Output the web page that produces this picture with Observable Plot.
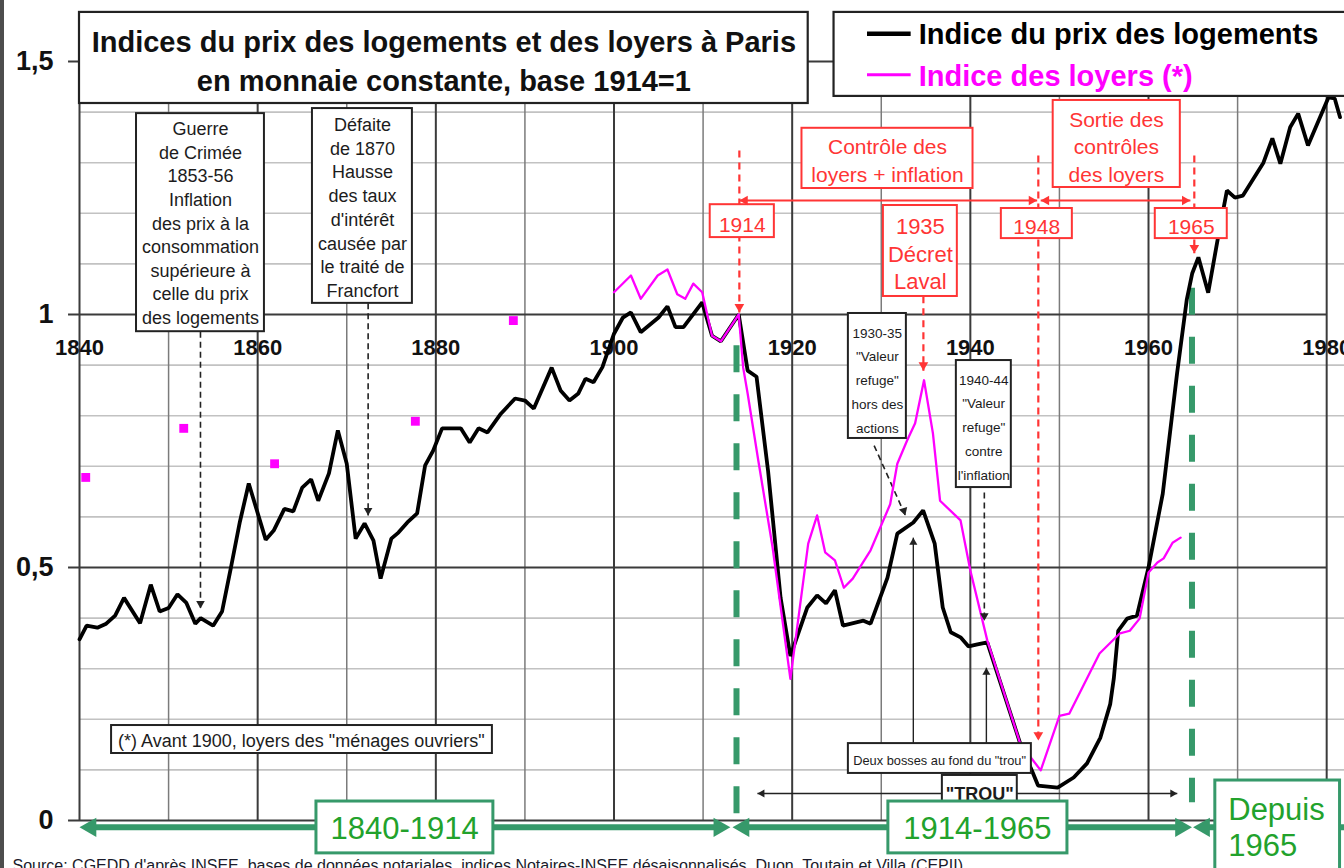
<!DOCTYPE html>
<html><head><meta charset="utf-8">
<script src="https://cdn.jsdelivr.net/npm/d3@7"></script>
<script src="https://cdn.jsdelivr.net/npm/@observablehq/plot@0.6"></script>
<style>
html,body{margin:0;padding:0;background:#fff;overflow:hidden;}
#wrap{position:relative;width:1344px;height:868px;overflow:hidden;}
#edge{position:absolute;left:0;top:0;width:4px;height:868px;background:#4d4d4d;}
</style></head>
<body><div id="wrap"><div id="chart"></div><div id="edge"></div></div>
<script>
// ---------------- DATA ----------------
const housingYears = [1840,1840.8,1842,1843,1844,1845,1846.8,1848,1849,1850,
1851,1852,1853,1853.6,1855,1856,1857,1858,1859,1860.9,
1861.8,1863,1864,1865,1866,1866.8,1868,1869,1870,1871,
1872,1873,1873.8,1875,1875.8,1876.8,1877.9,1878.8,1879.7,1880.7,
1881.8,1882.8,1883.8,1884.8,1885.8,1887.3,1888.9,1890,1891,1893,
1894,1895,1896,1896.8,1897.7,1898.7,1900,1901,1901.9,1903,
1905,1906,1906.9,1907.8,1909.9,1911,1912,1914,1915,1916,
1917.3,1918.7,1919.8,1921.7,1922.8,1923.8,1924.8,1925.7,1928,1928.8,
1930.7,1931.8,1933.6,1934.7,1936,1936.9,1937.8,1938.9,1939.8,1940.8,
1941.9,1945.6,1947,1947.6,1949.8,1951.6,1953.1,1954.6,1955.7,1956.1,
1956.6,1957.6,1958.7,1960,1961.6,1963.2,1964.3,1964.9,1965.6,1966.7,
1967.8,1968.8,1969.7,1970.6,1972.9,1973.9,1974.8,1975.9,1976.8,1977.9,
1980.2,1980.9,1981.5];
const housingIndex = [0.358,0.385,0.381,0.389,0.405,0.44,0.39,0.466,0.413,0.42,
0.447,0.43,0.389,0.40,0.385,0.413,0.50,0.59,0.666,0.555,
0.573,0.616,0.611,0.658,0.674,0.632,0.686,0.771,0.705,0.557,
0.587,0.553,0.478,0.557,0.569,0.589,0.607,0.702,0.731,0.775,
0.775,0.775,0.747,0.775,0.767,0.804,0.834,0.83,0.814,0.895,
0.85,0.83,0.844,0.873,0.866,0.896,0.962,0.994,1.004,0.965,
0.994,1.016,0.975,0.975,1.024,0.958,0.947,1.0,0.889,0.877,
0.69,0.44,0.325,0.421,0.445,0.429,0.455,0.385,0.395,0.389,
0.48,0.567,0.589,0.613,0.547,0.421,0.372,0.362,0.344,0.348,
0.352,0.152,0.095,0.069,0.065,0.085,0.113,0.164,0.23,0.28,
0.375,0.399,0.405,0.5,0.646,0.883,1.03,1.081,1.113,1.043,
1.152,1.245,1.231,1.235,1.30,1.348,1.298,1.37,1.397,1.334,
1.429,1.427,1.39];

const rentYears = [1900,1901.9,1903,1904.9,1906,1907.1,1908,1908.9,1909.9,1911,1912,
1914,1914.5,1915,1916.2,1917.8,1919.8,
1921.8,1922.8,1923.7,1924.8,1925.8,1926.8,1928.8,
1931,1931.8,1932.9,1933.8,1934.8,1935.8,1936.6,1938.9,1940,1941.9,
1945.6,1947.9,1950,1951.1,1954.5,1956.8,1957.9,1959,1960,1961,1961.7,1962.7,1963.6];
const rentIndex = [1.044,1.077,1.031,1.077,1.089,1.04,1.031,1.061,1.044,0.958,0.947,
1.0,0.895,0.844,0.711,0.54,0.28,
0.547,0.603,0.53,0.514,0.46,0.478,0.534,
0.625,0.705,0.751,0.785,0.87,0.765,0.632,0.593,0.494,0.356,
0.152,0.099,0.207,0.211,0.33,0.37,0.375,0.399,0.49,0.51,0.518,0.549,0.559];

// rents of "ménages ouvriers" before 1900 (isolated points)
const workerRentYears = [1840.7,1851.7,1861.9,1877.7,1888.7];
const workerRentIndex = [0.678,0.775,0.705,0.789,0.988];

const yTicks = [0, 0.5, 1, 1.5];
const yTickLabels = ["0", "0,5", "1", "1,5"];
const xTicks = [1840, 1860, 1880, 1900, 1920, 1940, 1960, 1980];
const xTickLabels = ["1840", "1860", "1880", "1900", "1920", "1940", "1960", "1980"];
const minorYGrid = [0.1,0.2,0.3,0.4,0.6,0.7,0.8,0.9,1.1,1.2,1.3,1.4];
const decadeGrid = [1850,1870,1890,1910,1930,1950,1970];

const titleText = "Indices du prix des logements et des loyers à Paris\nen monnaie constante, base 1914=1";
const legendLabels = ["Indice du prix des logements", "Indice des loyers (*)"];
const sourceText = "Source: CGEDD d'après INSEE, bases de données notariales, indices Notaires-INSEE désaisonnalisés, Duon, Toutain et Villa (CEPII)";

// ---------------- BUILD ----------------
const housing = housingYears.map((y, i) => ({year: y, value: housingIndex[i]}));
const rents = rentYears.map((y, i) => ({year: y, value: rentIndex[i]}));
const workerRents = workerRentYears.map((y, i) => ({year: y, value: workerRentIndex[i]}));

const SANS = "'Liberation Sans', Arial, Helvetica, sans-serif";
const RED = "#ff3535", GREEN = "#36996a", GREEN_TXT = "#22a22c", INK = "#1c1c1c";

// triangle arrowhead whose tip sits on (x, y); angle clockwise from "up"
function head(points, angle, r, fill) {
  const a = angle * Math.PI / 180, off = 1.555 * r;
  return Plot.dot(points, {x: "x", y: "y", symbol: "triangle", r, rotate: angle, fill, stroke: "none",
    dx: -off * Math.sin(a), dy: off * Math.cos(a)});
}

// annotation boxes (positions in data units: years / index)
const blackBoxes = [
  {x1: 1846.4, x2: 1860.76, y1: 0.966, y2: 1.397, cx: 1853.58, cy: 1.1826, size: 18, lh: 1.31,
   text: "Guerre\nde Crimée\n1853-56\nInflation\ndes prix à la\nconsommation\nsupérieure à\ncelle du prix\ndes logements"},
  {x1: 1866.15, x2: 1877.37, y1: 1.022, y2: 1.407, cx: 1871.76, cy: 1.2135, size: 18, lh: 1.32,
   text: "Défaite\nde 1870\nHausse\ndes taux\nd'intérêt\ncausée par\nle traité de\nFrancfort"},
  {x1: 1843.6, x2: 1886.35, y1: 0.1324, y2: 0.1877, cx: 1864.9, cy: 0.1583, size: 18, lh: 1.2,
   text: "(*) Avant 1900, loyers des \"ménages ouvriers\""},
  {x1: 1926.31, x2: 1932.82, y1: 0.755, y2: 1.002, cx: 1929.56, cy: 0.8755, size: 13.5, lh: 1.76,
   text: "1930-35\n\"Valeur\nrefuge\"\nhors des\nactions"},
  {x1: 1938.43, x2: 1944.6, y1: 0.658, y2: 0.909, cx: 1941.5, cy: 0.7825, size: 13.5, lh: 1.76,
   text: "1940-44\n\"Valeur\nrefuge\"\ncontre\nl'inflation"},
  {x1: 1926.31, x2: 1946.85, y1: 0.093, y2: 0.152, cx: 1936.55, cy: 0.1195, size: 12.8, lh: 1.2,
   text: "Deux bosses au fond du \"trou\""}
];
const redBoxes = [
  {x1: 1910.8, x2: 1918.0, y1: 1.152, y2: 1.217, cx: 1914.4, cy: 1.180, size: 21, lh: 1.3, text: "1914"},
  {x1: 1921.1, x2: 1940.3, y1: 1.249, y2: 1.368, cx: 1930.7, cy: 1.307, size: 21, lh: 1.3, text: "Contrôle des\nloyers + inflation"},
  {x1: 1930.24, x2: 1938.54, y1: 1.0356, y2: 1.2154, cx: 1934.39, cy: 1.122, size: 22, lh: 1.25, text: "1935\nDécret\nLaval"},
  {x1: 1943.48, x2: 1951.45, y1: 1.150, y2: 1.2095, cx: 1947.45, cy: 1.176, size: 21, lh: 1.3, text: "1948"},
  {x1: 1949.3, x2: 1963.57, y1: 1.251, y2: 1.423, cx: 1956.4, cy: 1.334, size: 21, lh: 1.3, text: "Sortie des\ncontrôles\ndes loyers"},
  {x1: 1960.76, x2: 1968.84, y1: 1.150, y2: 1.2095, cx: 1964.8, cy: 1.176, size: 21, lh: 1.3, text: "1965"}
];
const greenBoxes = [
  {x1: 1866.6, x2: 1886.46, y1: -0.065, y2: 0.0375, cx: 1876.5, cy: -0.0166, anchor: "middle", text: "1840-1914"},
  {x1: 1930.8, x2: 1950.9, y1: -0.065, y2: 0.0375, cx: 1940.8, cy: -0.0166, anchor: "middle", text: "1914-1965"},
  {x1: 1967.5, x2: 1981.5, y1: -0.12, y2: 0.079, cx: 1968.95, cy: -0.0125, anchor: "start", text: "Depuis\n1965"}
];

const redDashed = [
  {x1: 1914.07, y1: 1.324, x2: 1914.07, y2: 1.004},
  {x1: 1934.73, y1: 1.036, x2: 1934.73, y2: 0.889},
  {x1: 1947.63, y1: 1.314, x2: 1947.63, y2: 0.158},
  {x1: 1965.14, y1: 1.314, x2: 1965.14, y2: 1.121}
];
const redPeriods = [
  {x1: 1914.07, y1: 1.2253, x2: 1947.5, y2: 1.2253},
  {x1: 1947.9, y1: 1.2253, x2: 1964.7, y2: 1.2253}
];
const blackDashed = [
  {x1: 1853.58, y1: 0.966, x2: 1853.58, y2: 0.419},
  {x1: 1872.4, y1: 1.022, x2: 1872.4, y2: 0.603},
  {x1: 1929.2, y1: 0.741, x2: 1932.7, y2: 0.603},
  {x1: 1941.57, y1: 0.648, x2: 1941.57, y2: 0.395}
];
const blackSolid = [
  {x1: 1933.6, y1: 0.152, x2: 1933.6, y2: 0.559},
  {x1: 1941.8, y1: 0.152, x2: 1941.8, y2: 0.302},
  {x1: 1916.1, y1: 0.0534, x2: 1963.23, y2: 0.0534}
];
const greenDashed = [
  {x1: 1913.75, y1: 0.939, x2: 1913.75, y2: 0.01},
  {x1: 1964.88, y1: 1.053, x2: 1964.88, y2: 0.036}
];
const greenPeriods = [
  {x1: 1841.5, y1: -0.0135, x2: 1911.5, y2: -0.0135},
  {x1: 1915, y1: -0.0135, x2: 1963.3, y2: -0.0135},
  {x1: 1966.5, y1: -0.0135, x2: 1984, y2: -0.0135}
];

const txt = (data, opts) => Plot.text(data, {x: "cx", y: "cy", text: "text", ...opts});

const chart = Plot.plot({
  width: 1344, height: 868,
  marginLeft: 79, marginRight: 0, marginTop: 61, marginBottom: 48,
  x: {domain: [1840, 1982], axis: null},
  y: {domain: [0, 1.5], axis: null},
  style: {fontFamily: SANS, background: "white", overflow: "hidden"},
  marks: [
    // grid
    Plot.ruleY(minorYGrid, {y: d => d, x1: 1840, x2: 1982, stroke: "#c2c2c2", strokeWidth: 1.6}),
    Plot.ruleX(decadeGrid, {x: d => d, y1: 0, y2: 1.5, stroke: "#7b7b7b", strokeWidth: 1.5}),
    Plot.ruleX(xTicks, {x: d => d, y1: 0, y2: 1.5, stroke: "#3b3b3b", strokeWidth: 2}),
    Plot.ruleY(yTicks, {y: d => d, x1: 1838.77, x2: 1980, stroke: "#3b3b3b", strokeWidth: 2}),
    // axis labels
    Plot.text(yTicks, {x: 1840, y: d => d, text: (d, i) => yTickLabels[i], textAnchor: "end", dx: -26,
      fontSize: 27, fontWeight: "bold", fill: "#111"}),
    Plot.text(xTicks, {x: d => d, y: 0.933, text: (d, i) => xTickLabels[i], fontSize: 22, fontWeight: "bold", fill: "#111"}),
    // period separators
    Plot.link(greenDashed, {x1: "x1", y1: "y1", x2: "x2", y2: "y2", stroke: GREEN, strokeWidth: 6, strokeDasharray: "27,22"}),
    Plot.link(redDashed, {x1: "x1", y1: "y1", x2: "x2", y2: "y2", stroke: RED, strokeWidth: 2.2, strokeDasharray: "7,5"}),
    Plot.link(blackDashed, {x1: "x1", y1: "y1", x2: "x2", y2: "y2", stroke: "#222", strokeWidth: 1.6, strokeDasharray: "6,4"}),
    Plot.link(blackSolid, {x1: "x1", y1: "y1", x2: "x2", y2: "y2", stroke: "#222", strokeWidth: 1.4}),
    // data
    Plot.line(housing, {x: "year", y: "value", stroke: "#000", strokeWidth: 3.8, strokeLinejoin: "miter"}),
    Plot.line(rents, {x: "year", y: "value", stroke: "#ff00ff", strokeWidth: 2.3}),
    Plot.dot(workerRents, {x: "year", y: "value", symbol: "square", r: 5, fill: "#ff00ff", stroke: "none"}),
    // red period arrows
    Plot.link(redPeriods, {x1: "x1", y1: "y1", x2: "x2", y2: "y2", stroke: RED, strokeWidth: 2}),
    // boxes
    Plot.rect([{x1: 1840, x2: 1921.8, y1: 1.417, y2: 1.597}], {x1: "x1", x2: "x2", y1: "y1", y2: "y2", fill: "white", stroke: "#222", strokeWidth: 2.2}),
    Plot.text([titleText], {x: 1880.9, y: 1.5055, text: d => d, fontSize: 29, fontWeight: "bold", lineHeight: 1.345, fill: "#111"}),
    Plot.rect([{x1: 1924.7, x2: 1984, y1: 1.431, y2: 1.597}], {x1: "x1", x2: "x2", y1: "y1", y2: "y2", fill: "white", stroke: "#222", strokeWidth: 2.2}),
    Plot.link([{x1: 1928.4, x2: 1933.3, y: 1.555}], {x1: "x1", x2: "x2", y1: "y", y2: "y", stroke: "#000", strokeWidth: 4.5}),
    Plot.link([{x1: 1928.4, x2: 1933.3, y: 1.474}], {x1: "x1", x2: "x2", y1: "y", y2: "y", stroke: "#ff00ff", strokeWidth: 3}),
    Plot.text([legendLabels[0]], {x: 1934.2, y: 1.5534, text: d => d, textAnchor: "start", fontSize: 29, fontWeight: "bold", fill: "#000"}),
    Plot.text([legendLabels[1]], {x: 1934.2, y: 1.4709, text: d => d, textAnchor: "start", fontSize: 29, fontWeight: "bold", fill: "#ff00ff"}),

    Plot.rect(blackBoxes, {x1: "x1", x2: "x2", y1: "y1", y2: "y2", fill: "white", stroke: "#222", strokeWidth: 2}),
    ...blackBoxes.map(b => Plot.text([b], {x: "cx", y: "cy", text: "text", fontSize: b.size, lineHeight: b.lh, fill: INK})),
    Plot.rect(redBoxes, {x1: "x1", x2: "x2", y1: "y1", y2: "y2", fill: "white", stroke: RED, strokeWidth: 2}),
    ...redBoxes.map(b => Plot.text([b], {x: "cx", y: "cy", text: "text", fontSize: b.size, lineHeight: b.lh, fill: RED})),

    // "TROU" box (partly hidden by the period box)
    Plot.rect([{x1: 1936.86, x2: 1945.27, y1: 0.0, y2: 0.089}], {x1: "x1", x2: "x2", y1: "y1", y2: "y2", fill: "white", stroke: "#222", strokeWidth: 2}),
    Plot.text(["\"TROU\""], {x: 1941.05, y: 0.051, text: d => d, fontSize: 18, fontWeight: "bold", fill: INK}),

    // arrowheads
    head([{x: 1914.07, y: 1.004}, {x: 1934.73, y: 0.889}, {x: 1947.63, y: 0.158}, {x: 1965.14, y: 1.121}], 180, 3.6, RED),
    head([{x: 1914.07, y: 1.2253}, {x: 1947.9, y: 1.2253}], 270, 3.6, RED),
    head([{x: 1947.5, y: 1.2253}, {x: 1964.7, y: 1.2253}], 90, 3.6, RED),
    head([{x: 1853.58, y: 0.419}, {x: 1872.4, y: 0.603}, {x: 1941.57, y: 0.395}], 180, 3.2, "#222"),
    head([{x: 1932.7, y: 0.603}], 162.6, 3.2, "#222"),
    head([{x: 1933.6, y: 0.559}, {x: 1941.8, y: 0.302}], 0, 3, "#222"),
    head([{x: 1916.1, y: 0.0534}], 270, 3, "#222"),
    head([{x: 1963.23, y: 0.0534}], 90, 3, "#222"),

    // green periods
    Plot.link(greenPeriods, {x1: "x1", y1: "y1", x2: "x2", y2: "y2", stroke: GREEN, strokeWidth: 6}),
    head([{x: 1840, y: -0.0135}, {x: 1913.3, y: -0.0135}, {x: 1965.0, y: -0.0135}], 270, 7.2, GREEN),
    head([{x: 1913.06, y: -0.0135}, {x: 1964.88, y: -0.0135}], 90, 7.2, GREEN),
    Plot.rect(greenBoxes, {x1: "x1", x2: "x2", y1: "y1", y2: "y2", fill: "white", stroke: GREEN, strokeWidth: 3}),
    txt(greenBoxes.filter(b => b.anchor === "middle"), {fontSize: 31, fill: GREEN_TXT}),
    txt(greenBoxes.filter(b => b.anchor === "start"), {fontSize: 31, fill: GREEN_TXT, textAnchor: "start", lineHeight: 1.15}),

    // source
    Plot.text([sourceText], {x: 1840, y: -0.0887, text: d => d, textAnchor: "start", dx: -67, fontSize: 16, fill: "#1a1a2a"})
  ]
});
document.getElementById("chart").appendChild(chart);
</script>
</body></html>
